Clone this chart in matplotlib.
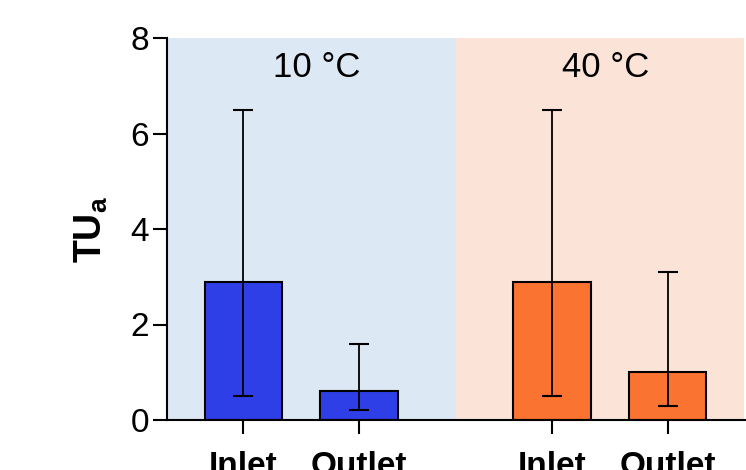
import matplotlib
matplotlib.use('Agg')
import matplotlib.pyplot as plt
import numpy as np

plt.rcParams['font.family'] = ['Liberation Sans', 'DejaVu Sans']
plt.rcParams['mathtext.fontset'] = 'custom'
plt.rcParams['mathtext.bf'] = 'Liberation Sans:bold'
plt.rcParams['mathtext.rm'] = 'Liberation Sans'

# data
temps = ['10 °C', '40 °C']
sites = ['Inlet', 'Outlet', 'Inlet', 'Outlet']
means = [2.9, 0.6, 2.9, 1.0]
err_low = [0.5, 0.2, 0.5, 0.3]
err_high = [6.5, 1.6, 6.5, 3.1]
bar_colors = ['#2f3fe8', '#2f3fe8', '#fb7330', '#fb7330']
bg_colors = ['#dde8f5', '#fbe3d7']

pos = np.array([0, 1, 2.67, 3.67])
xmin, xsplit, xmax = -0.661, 1.843, 4.348

fig = plt.figure(figsize=(7.46, 4.70), dpi=100)
ax = fig.add_axes([167 / 746, 50 / 470, 579 / 746, 382 / 470])

ax.axvspan(xmin, xsplit, color=bg_colors[0], zorder=0, lw=0)
ax.axvspan(xsplit, xmax - 0.02, color=bg_colors[1], zorder=0, lw=0)

m = np.array(means)
yerr = [m - np.array(err_low), np.array(err_high) - m]
ax.bar(pos, means, width=0.67, color=bar_colors, edgecolor='black', linewidth=1.5, zorder=2)
ax.errorbar(pos, means, yerr=yerr, fmt='none', ecolor='black', elinewidth=1.3,
            capsize=7.5, capthick=1.5, zorder=3)

ax.text(0.635, 7.39, temps[0], ha='center', va='center', fontsize=25)
ax.text(3.13, 7.39, temps[1], ha='center', va='center', fontsize=25)

ax.set_xlim(xmin, xmax)
ax.set_ylim(0, 8)
ax.set_yticks([0, 2, 4, 6, 8])
ax.set_xticks(pos)
ax.set_xticklabels(sites, fontweight='bold')
ax.tick_params(axis='y', labelsize=24, length=10, width=1.5, pad=3)
ax.tick_params(axis='x', labelsize=24, length=10, width=1.5, pad=12)
ax.set_ylabel(r'$\mathbf{TU_a}$', fontsize=27)
ax.yaxis.set_label_coords(-0.098, 0.5)

for s in ['top', 'right']:
    ax.spines[s].set_visible(False)
for s in ['left', 'bottom']:
    ax.spines[s].set_linewidth(1.5)

fig.savefig('out.png', dpi=100)
